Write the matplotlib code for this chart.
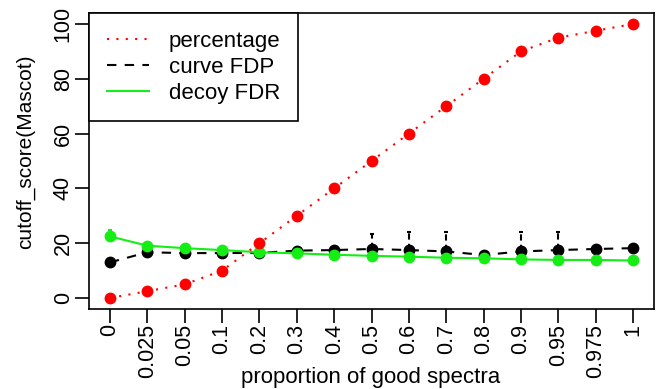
import matplotlib
matplotlib.use("Agg")
import matplotlib.pyplot as plt
from matplotlib.lines import Line2D
import numpy as np

plt.rcParams["font.family"] = ["Liberation Sans", "DejaVu Sans"]

proportions = ["0", "0.025", "0.05", "0.1", "0.2", "0.3", "0.4", "0.5",
               "0.6", "0.7", "0.8", "0.9", "0.95", "0.975", "1"]
percentage = [0, 2.5, 5, 10, 20, 30, 40, 50, 60, 70, 80, 90, 95, 97.5, 100]
curve_fdp = [13.0, 16.7, 16.4, 16.4, 16.5, 17.3, 17.5, 17.9,
             17.5, 17.0, 15.7, 17.0, 17.5, 17.9, 18.2]
decoy_fdr = [22.5, 19.1, 18.2, 17.5, 16.7, 16.3, 15.8, 15.4,
             15.1, 14.7, 14.5, 14.1, 13.9, 13.9, 13.7]
# error bars (lower, upper)
fdp_err_low = [0, 0, 0, 0, 1.7, 0, 0, 0, 0, 0, 0, 0, 0, 0, 0]
fdp_err_up = [0, 0, 0, 0, 0, 0, 0, 5.5, 6.5, 7.0, 0, 7.0, 6.5, 0, 0]
fdr_err_low = [0] * 15
fdr_err_up = [2.4, 0, 0, 0, 0, 0, 0, 0, 0, 0, 0, 0, 0, 0, 0]

x = np.arange(len(proportions))
green = "#14ee14"

fig = plt.figure(figsize=(6.62, 3.89), dpi=100)
ax = fig.add_axes([89 / 662, 80 / 389, 565 / 662, 296 / 389])

eb = ax.errorbar(x, curve_fdp, yerr=[fdp_err_low, fdp_err_up], fmt="none",
                 ecolor="black", elinewidth=1.5, capsize=1.5, capthick=1.5)
eb[2][0].set_linestyle((0, (3, 2)))
ax.plot(x, curve_fdp, color="black", lw=1.5, dashes=(4.5, 4),
        marker="o", ms=7.5, label="curve FDP")

ax.errorbar(x, decoy_fdr, yerr=[fdr_err_low, fdr_err_up], fmt="none",
            ecolor=green, elinewidth=1.5, capsize=1.5, capthick=1.5)
ax.plot(x, decoy_fdr, color=green, lw=1.5, marker="o", ms=7.5,
        label="decoy FDR")

ax.plot(x, percentage, color="red", lw=1.5, linestyle=(0, (1, 3.5)),
        marker="o", ms=7.5, label="percentage")

ax.set_xlim(-0.56, 14.56)
ax.set_ylim(-4, 104)
ax.set_xticks(x)
ax.set_xticklabels(proportions, rotation=90)
ax.set_yticks(range(0, 101, 20))
ax.set_yticklabels([str(v) for v in range(0, 101, 20)], rotation=90, va="center")
ax.tick_params(length=10, width=1.2, labelsize=15.5, pad=1)
for s in ax.spines.values():
    s.set_linewidth(1.2)

# axis titles placed like the R plot
fig.text(371 / 662, (389 - 383) / 389, "proportion of good spectra",
         fontsize=16, ha="center", va="baseline")
fig.text(26 / 662, 1 - 152 / 389, "cutoff_score(Mascot)", fontsize=15,
         rotation=90, ha="center", va="center")

handles = [
    Line2D([], [], color="red", lw=1.5, linestyle=(0, (1, 3.5))),
    Line2D([], [], color="black", lw=1.5, dashes=(4.5, 4)),
    Line2D([], [], color=green, lw=1.5),
]
leg = ax.legend(handles, ["percentage", "curve FDP", "decoy FDR"],
                loc="upper left", bbox_to_anchor=(0, 1), borderaxespad=0,
                fontsize=16, fancybox=False, framealpha=1, edgecolor="black",
                handlelength=1.9, handletextpad=0.9, labelspacing=0.22,
                borderpad=0.8)
leg.get_frame().set_linewidth(1.2)

fig.savefig("out.png", dpi=100)
